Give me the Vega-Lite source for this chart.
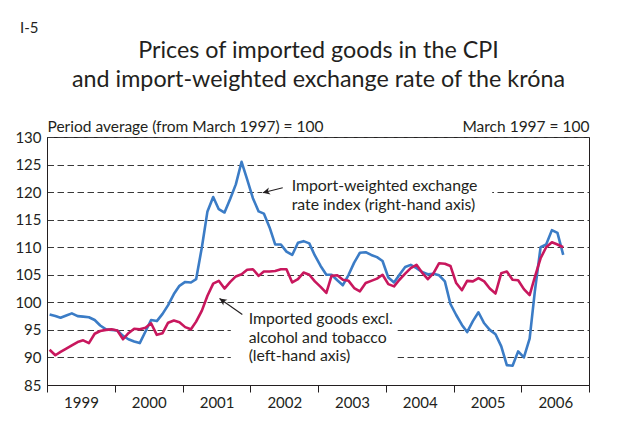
{
  "$schema": "https://vega.github.io/schema/vega-lite/v6.json",
  "width": 542,
  "height": 248,
  "autosize": {"type": "none"},
  "padding": {"left": 47, "top": 137, "right": 37, "bottom": 36},
  "background": "white",
  "config": {
    "font": "Lato",
    "view": {"stroke": "#231f20", "strokeWidth": 1},
    "text": {"font": "Lato"}
  },
  "title": {
    "text": "I-5",
    "fontSize": 15,
    "fontWeight": "normal",
    "color": "#231f20",
    "anchor": "start",
    "frame": "group",
    "dx": -27,
    "offset": 2
  },
  "datasets": {
    "series": [
      {"d": "1999-01-15", "cpi": 91.4, "fx": 97.8},
      {"d": "1999-02-15", "cpi": 90.4, "fx": 97.5},
      {"d": "1999-03-15", "cpi": 91.0, "fx": 97.2},
      {"d": "1999-04-15", "cpi": 91.6, "fx": 97.6},
      {"d": "1999-05-15", "cpi": 92.2, "fx": 98.0},
      {"d": "1999-06-15", "cpi": 92.8, "fx": 97.5},
      {"d": "1999-07-15", "cpi": 93.1, "fx": 97.4},
      {"d": "1999-08-15", "cpi": 92.6, "fx": 97.3},
      {"d": "1999-09-15", "cpi": 94.3, "fx": 96.8},
      {"d": "1999-10-15", "cpi": 94.8, "fx": 95.8},
      {"d": "1999-11-15", "cpi": 95.0, "fx": 95.1},
      {"d": "1999-12-15", "cpi": 95.1, "fx": 95.0},
      {"d": "2000-01-15", "cpi": 94.9, "fx": 94.9},
      {"d": "2000-02-15", "cpi": 93.3, "fx": 93.9},
      {"d": "2000-03-15", "cpi": 94.4, "fx": 93.3},
      {"d": "2000-04-15", "cpi": 95.2, "fx": 92.9},
      {"d": "2000-05-15", "cpi": 95.1, "fx": 92.6},
      {"d": "2000-06-15", "cpi": 95.4, "fx": 94.7},
      {"d": "2000-07-15", "cpi": 96.2, "fx": 96.8},
      {"d": "2000-08-15", "cpi": 94.1, "fx": 96.6},
      {"d": "2000-09-15", "cpi": 94.4, "fx": 97.9},
      {"d": "2000-10-15", "cpi": 96.3, "fx": 99.5},
      {"d": "2000-11-15", "cpi": 96.7, "fx": 101.5},
      {"d": "2000-12-15", "cpi": 96.4, "fx": 103.0},
      {"d": "2001-01-15", "cpi": 95.5, "fx": 103.7},
      {"d": "2001-02-15", "cpi": 95.1, "fx": 103.6},
      {"d": "2001-03-15", "cpi": 96.5, "fx": 104.2},
      {"d": "2001-04-15", "cpi": 98.5, "fx": 110.0},
      {"d": "2001-05-15", "cpi": 101.2, "fx": 116.5},
      {"d": "2001-06-15", "cpi": 103.4, "fx": 119.1},
      {"d": "2001-07-15", "cpi": 103.9, "fx": 116.9},
      {"d": "2001-08-15", "cpi": 102.5, "fx": 116.3},
      {"d": "2001-09-15", "cpi": 103.7, "fx": 118.8},
      {"d": "2001-10-15", "cpi": 104.7, "fx": 121.4},
      {"d": "2001-11-15", "cpi": 105.1, "fx": 125.5},
      {"d": "2001-12-15", "cpi": 105.9, "fx": 122.3},
      {"d": "2002-01-15", "cpi": 106.0, "fx": 118.9},
      {"d": "2002-02-15", "cpi": 104.8, "fx": 116.5},
      {"d": "2002-03-15", "cpi": 105.6, "fx": 116.1},
      {"d": "2002-04-15", "cpi": 105.6, "fx": 113.6},
      {"d": "2002-05-15", "cpi": 105.7, "fx": 110.5},
      {"d": "2002-06-15", "cpi": 106.0, "fx": 110.5},
      {"d": "2002-07-15", "cpi": 106.0, "fx": 109.2},
      {"d": "2002-08-15", "cpi": 103.6, "fx": 108.6},
      {"d": "2002-09-15", "cpi": 104.2, "fx": 110.8},
      {"d": "2002-10-15", "cpi": 105.4, "fx": 111.1},
      {"d": "2002-11-15", "cpi": 105.0, "fx": 110.7},
      {"d": "2002-12-15", "cpi": 103.8, "fx": 108.5},
      {"d": "2003-01-15", "cpi": 102.8, "fx": 106.6},
      {"d": "2003-02-15", "cpi": 101.7, "fx": 105.0},
      {"d": "2003-03-15", "cpi": 104.8, "fx": 105.0},
      {"d": "2003-04-15", "cpi": 104.9, "fx": 104.0},
      {"d": "2003-05-15", "cpi": 104.1, "fx": 103.1},
      {"d": "2003-06-15", "cpi": 103.9, "fx": 105.0},
      {"d": "2003-07-15", "cpi": 102.6, "fx": 107.2},
      {"d": "2003-08-15", "cpi": 102.0, "fx": 109.0},
      {"d": "2003-09-15", "cpi": 103.5, "fx": 109.1},
      {"d": "2003-10-15", "cpi": 103.9, "fx": 108.6},
      {"d": "2003-11-15", "cpi": 104.3, "fx": 108.2},
      {"d": "2003-12-15", "cpi": 105.0, "fx": 107.5},
      {"d": "2004-01-15", "cpi": 103.3, "fx": 104.5},
      {"d": "2004-02-15", "cpi": 102.9, "fx": 103.6},
      {"d": "2004-03-15", "cpi": 104.1, "fx": 105.0},
      {"d": "2004-04-15", "cpi": 105.2, "fx": 106.4},
      {"d": "2004-05-15", "cpi": 106.2, "fx": 106.8},
      {"d": "2004-06-15", "cpi": 106.8, "fx": 106.2},
      {"d": "2004-07-15", "cpi": 105.4, "fx": 105.5},
      {"d": "2004-08-15", "cpi": 104.2, "fx": 105.1},
      {"d": "2004-09-15", "cpi": 105.3, "fx": 105.2},
      {"d": "2004-10-15", "cpi": 107.1, "fx": 104.9},
      {"d": "2004-11-15", "cpi": 107.0, "fx": 103.8},
      {"d": "2004-12-15", "cpi": 106.6, "fx": 99.7},
      {"d": "2005-01-15", "cpi": 103.5, "fx": 97.7},
      {"d": "2005-02-15", "cpi": 102.2, "fx": 95.9},
      {"d": "2005-03-15", "cpi": 103.9, "fx": 94.6},
      {"d": "2005-04-15", "cpi": 103.8, "fx": 96.6},
      {"d": "2005-05-15", "cpi": 104.4, "fx": 98.2},
      {"d": "2005-06-15", "cpi": 103.8, "fx": 96.2},
      {"d": "2005-07-15", "cpi": 102.5, "fx": 95.0},
      {"d": "2005-08-15", "cpi": 101.6, "fx": 94.2},
      {"d": "2005-09-15", "cpi": 105.3, "fx": 92.0},
      {"d": "2005-10-15", "cpi": 105.6, "fx": 88.6},
      {"d": "2005-11-15", "cpi": 104.1, "fx": 88.5},
      {"d": "2005-12-15", "cpi": 104.0, "fx": 91.1},
      {"d": "2006-01-15", "cpi": 102.4, "fx": 90.0},
      {"d": "2006-02-15", "cpi": 101.3, "fx": 93.4},
      {"d": "2006-03-15", "cpi": 104.6, "fx": 102.0},
      {"d": "2006-04-15", "cpi": 108.0, "fx": 110.0},
      {"d": "2006-05-15", "cpi": 110.0, "fx": 110.5},
      {"d": "2006-06-15", "cpi": 110.9, "fx": 113.1},
      {"d": "2006-07-15", "cpi": 110.5, "fx": 112.6},
      {"d": "2006-08-15", "cpi": 110.0, "fx": 108.6}
    ],
    "masks": [
      {"d": "2002-03-05", "d2": "2005-07-28", "v": 118.6, "v2": 121.4},
      {"d": "2001-09-18", "d2": "2004-03-04", "v": 88.0, "v2": 96.8}
    ],
    "arrows": [
      {"s": "fx", "d": "2002-03-09", "v": 119.9, "d2": "2002-06-25", "v2": 120.8},
      {"s": "cpi", "d": "2001-07-19", "v": 100.7, "d2": "2001-11-19", "v2": 97.8}
    ],
    "labels": [
      {"d": "2002-08-12", "v": 120.2, "t": "Import-weighted exchange\nrate index (right-hand axis)"},
      {"d": "2001-12-23", "v": 96.07, "t": "Imported goods excl.\nalcohol and tobacco\n(left-hand axis)"}
    ]
  },
  "encoding": {
    "x": {
      "field": "d",
      "type": "temporal",
      "scale": {
        "type": "utc",
        "domain": [{"year": 1999, "month": 1, "date": 1, "utc": true}, {"year": 2007, "month": 1, "date": 1, "utc": true}]
      },
      "axis": {
        "values": [
          {"year": 1999, "month": 1, "date": 1, "utc": true},
          {"year": 2000, "month": 1, "date": 1, "utc": true},
          {"year": 2001, "month": 1, "date": 1, "utc": true},
          {"year": 2002, "month": 1, "date": 1, "utc": true},
          {"year": 2003, "month": 1, "date": 1, "utc": true},
          {"year": 2004, "month": 1, "date": 1, "utc": true},
          {"year": 2005, "month": 1, "date": 1, "utc": true},
          {"year": 2006, "month": 1, "date": 1, "utc": true},
          {"year": 2007, "month": 1, "date": 1, "utc": true}
        ],
        "labelExpr": "utcyear(datum.value) < 2007 ? utcFormat(datum.value, '%Y') : ''",
        "labelOffset": 34,
        "labelAlign": "center",
        "labelBaseline": "top",
        "labelPadding": 3,
        "labelFontSize": 15,
        "labelColor": "#231f20",
        "labelFlush": false,
        "labelOverlap": false,
        "tickSize": 7,
        "tickColor": "#231f20",
        "domainColor": "#231f20",
        "grid": false,
        "title": ["Prices of imported goods in the CPI", "and import-weighted exchange rate of the króna"],
        "titleX": 271,
        "titleY": -328,
        "titleAlign": "center",
        "titleBaseline": "alphabetic",
        "titleLineHeight": 29,
        "titleFontSize": 23.3,
        "titleFontWeight": "normal",
        "titleColor": "#231f20"
      }
    }
  },
  "layer": [
    {
      "data": {"name": "masks"},
      "mark": {"type": "rect", "color": "white"},
      "encoding": {
        "x2": {"field": "d2"},
        "y": {
          "field": "v",
          "type": "quantitative",
          "scale": {"domain": [85, 130], "nice": false, "zero": false},
          "axis": {
            "orient": "left",
            "values": [85, 90, 95, 100, 105, 110, 115, 120, 125, 130],
            "ticks": false,
            "domain": true,
            "domainColor": "#231f20",
            "grid": true,
            "gridDash": [6.5, 3.5],
            "gridColor": "#3a3a3a",
            "gridWidth": 1,
            "labelFontSize": 15,
            "labelColor": "#231f20",
            "labelPadding": 6,
            "title": "Period average (from March 1997) = 100",
            "titleAngle": 0,
            "titleAlign": "left",
            "titleBaseline": "alphabetic",
            "titleX": 0,
            "titleY": -6,
            "titleFontSize": 15.5,
            "titleFontWeight": "normal",
            "titleColor": "#231f20"
          }
        },
        "y2": {"field": "v2"}
      }
    },
    {
      "data": {"name": "series"},
      "mark": {"type": "line", "color": "#3b7cc6", "strokeWidth": 2.6, "strokeJoin": "round"},
      "encoding": {
        "y": {
          "field": "fx",
          "type": "quantitative",
          "scale": {"domain": [85, 130], "nice": false, "zero": false},
          "axis": {
            "orient": "right",
            "labels": false,
            "ticks": false,
            "domain": false,
            "grid": false,
            "title": "March 1997 = 100",
            "titleAngle": 0,
            "titleAlign": "right",
            "titleBaseline": "alphabetic",
            "titleX": 0,
            "titleY": -6,
            "titleFontSize": 15.5,
            "titleFontWeight": "normal",
            "titleColor": "#231f20"
          }
        }
      }
    },
    {
      "data": {"name": "series"},
      "mark": {"type": "line", "color": "#c8175d", "strokeWidth": 2.6, "strokeJoin": "round"},
      "encoding": {
        "y": {"field": "cpi", "type": "quantitative", "scale": {"domain": [85, 130], "nice": false, "zero": false}, "axis": null}
      }
    },
    {
      "data": {"name": "arrows"},
      "mark": {"type": "rule", "color": "#231f20", "strokeWidth": 1.1},
      "encoding": {
        "x2": {"field": "d2"},
        "y": {"field": "v", "type": "quantitative", "scale": {"domain": [85, 130], "nice": false, "zero": false}, "axis": null},
        "y2": {"field": "v2"}
      }
    },
    {
      "data": {"name": "arrows"},
      "transform": [{"filter": "datum.s == 'fx'"}],
      "mark": {"type": "point", "shape": "M0,0L1.8,-0.9L1.3,0L1.8,0.9Z", "filled": true, "color": "#231f20", "opacity": 1, "size": 64, "angle": 346},
      "encoding": {
        "y": {"field": "v", "type": "quantitative", "scale": {"domain": [85, 130], "nice": false, "zero": false}, "axis": null}
      }
    },
    {
      "data": {"name": "arrows"},
      "transform": [{"filter": "datum.s == 'cpi'"}],
      "mark": {"type": "point", "shape": "M0,0L1.8,-0.9L1.3,0L1.8,0.9Z", "filled": true, "color": "#231f20", "opacity": 1, "size": 64, "angle": 35},
      "encoding": {
        "y": {"field": "v", "type": "quantitative", "scale": {"domain": [85, 130], "nice": false, "zero": false}, "axis": null}
      }
    },
    {
      "data": {"name": "labels"},
      "mark": {"type": "text", "align": "left", "baseline": "alphabetic", "fontSize": 15.8, "lineBreak": "\n", "lineHeight": 18.7, "color": "#231f20"},
      "encoding": {
        "y": {"field": "v", "type": "quantitative", "scale": {"domain": [85, 130], "nice": false, "zero": false}, "axis": null},
        "text": {"field": "t"}
      }
    }
  ],
  "resolve": {"scale": {"y": "independent"}, "axis": {"y": "independent"}}
}
